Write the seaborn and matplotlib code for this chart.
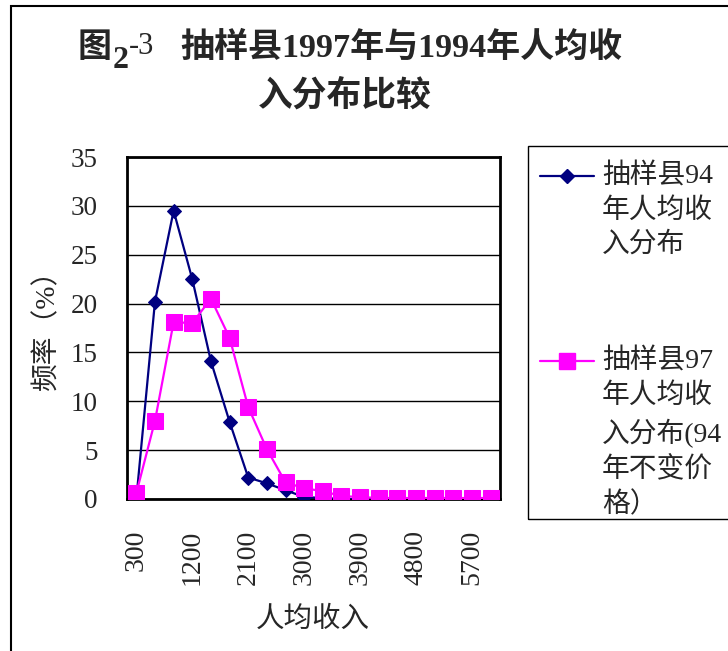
import pandas as pd
import matplotlib
matplotlib.use('Agg')
import matplotlib.pyplot as plt
import seaborn as sns
from matplotlib.lines import Line2D
from matplotlib.patches import Rectangle

# datos
ingreso = [300, 600, 900, 1200, 1500, 1800, 2100, 2400, 2700, 3000,
           3300, 3600, 3900, 4200, 4500, 4800, 5100, 5400, 5700, 6000]
frec_94 = [0.0, 20.2, 29.5, 22.5, 14.1, 7.9, 2.2, 1.6, 0.9, 0.2,
           0.1, 0.0, 0.0, 0.0, 0.0, 0.0, 0.0, 0.0, 0.0, 0.0]
frec_97 = [0.6, 8.0, 18.1, 18.0, 20.5, 16.5, 9.4, 5.1, 1.7, 1.1,
           0.8, 0.3, 0.2, 0.1, 0.1, 0.1, 0.1, 0.1, 0.1, 0.1]
nombre_94 = '抽样县94\n年人均收\n入分布'
nombre_97 = '抽样县97\n年人均收\n入分布(94\n年不变价\n格）'

df = pd.DataFrame({'pos': range(len(ingreso)), 'ingreso': ingreso,
                   'f94': frec_94, 'f97': frec_97})

sns.set_style('white')
fuente = ['Liberation Serif', 'Noto Sans CJK SC', 'DejaVu Sans']
plt.rcParams['font.family'] = fuente

W, H = 728, 651
fig = plt.figure(figsize=(W / 100, H / 100), dpi=100)
fx = lambda px: px / W
fy = lambda py: 1 - py / H

ax = fig.add_axes([fx(127), fy(499), (500 - 127) / W, (499 - 157) / H])

azul = '#000080'
rosa = '#FF00FF'
sns.lineplot(data=df, x='pos', y='f94', ax=ax, color=azul, lw=1.6,
             marker='D', markersize=7.5, markeredgecolor=azul, zorder=3)
sns.lineplot(data=df, x='pos', y='f97', ax=ax, color=rosa, lw=1.6,
             marker='s', markersize=11, markeredgecolor=rosa, zorder=4)

ax.set_xlim(-0.5, len(ingreso) - 0.5)
ax.set_ylim(0, 35)
ax.set_yticks(range(0, 36, 5))
ax.yaxis.grid(True, color='black', lw=1)
ax.tick_params(axis='y', direction='in', length=5, width=1, pad=21, labelsize=19.5)

# marcas entre categorias, etiquetas cada 3
ax.set_xticks([i - 0.5 for i in range(len(ingreso) + 1)])
ax.set_xticklabels([])
ax.tick_params(axis='x', which='major', direction='in', length=6, width=1)
ax.set_xticks(list(range(0, len(ingreso), 3)), minor=True)
ax.set_xticklabels([str(ingreso[i]) for i in range(0, len(ingreso), 3)],
                   minor=True, rotation=90)
ax.tick_params(axis='x', which='minor', length=0, pad=22, labelsize=20)

for s in ax.spines.values():
    s.set_visible(True)
    s.set_color('black')
    s.set_linewidth(2)

ax.set_xlabel('人均收入', fontsize=20.5, va='center')
ax.xaxis.set_label_coords(0.499, -0.354)
ax.set_ylabel('频率（%）', fontsize=20, va='center')
ax.yaxis.set_label_coords(-0.214, 0.515)

# titulo
fig.text(fx(78), fy(48), '图', fontsize=24.5, weight='bold', va='center', ha='left')
fig.text(fx(113), fy(60), '2', fontsize=23, weight='bold', va='center', ha='left')
fig.text(fx(129), fy(47), '-3', fontsize=22, va='center', ha='left')
fig.text(fx(180), fy(48), '抽样县1997年与1994年人均收', fontsize=24.5,
         weight='bold', va='center', ha='left')
fig.text(fx(345), fy(97), '入分布比较', fontsize=25, weight='bold',
         va='center', ha='center')

# leyenda
fig.patches.append(Rectangle((fx(528), fy(519)), fx(740) - fx(528), fy(146) - fy(519),
                             transform=fig.transFigure, fill=False,
                             edgecolor='black', lw=1))
fig.add_artist(Line2D([fx(540), fx(594)], [fy(176), fy(176)], color=azul, lw=1.6,
                      transform=fig.transFigure))
fig.add_artist(Line2D([fx(567)], [fy(176)], color=azul, marker='D', markersize=7.5,
                      transform=fig.transFigure))
fig.add_artist(Line2D([fx(540), fx(594)], [fy(361), fy(361)], color=rosa, lw=1.6,
                      transform=fig.transFigure))
fig.add_artist(Line2D([fx(567)], [fy(361)], color=rosa, marker='s', markersize=11,
                      transform=fig.transFigure))
fig.text(fx(602), fy(164), nombre_94, fontsize=20, va='top', ha='left', linespacing=1.42)
fig.text(fx(602), fy(349), nombre_97, fontsize=20, va='top', ha='left', linespacing=1.42)

# borde exterior
fig.patches.append(Rectangle((fx(11), fy(660)), fx(740) - fx(11), fy(6) - fy(660),
                             transform=fig.transFigure, fill=False,
                             edgecolor='black', lw=1.5))

plt.savefig('out.png', dpi=100)
